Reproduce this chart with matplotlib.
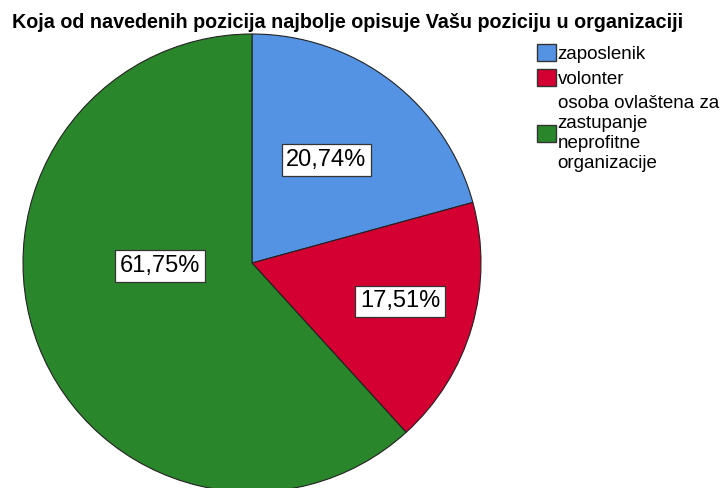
import matplotlib.pyplot as plt
from matplotlib.patches import Patch

plt.rcParams['font.family'] = ['Liberation Sans', 'DejaVu Sans']

categories = ["zaposlenik", "volonter",
              "osoba ovlaštena za\nzastupanje\nneprofitne\norganizacije"]
shares = [20.74, 17.51, 61.75]
pct_labels = ["20,74%", "17,51%", "61,75%"]
colors = ["#5493E3", "#D50032", "#2A862A"]
title = "Koja od navedenih pozicija najbolje opisuje Vašu poziciju u organizaciji"

W, H = 726, 488
fig = plt.figure(figsize=(W / 100, H / 100), dpi=100)

# pie centre and radius in pixels (from top-left)
cx, cy, r = 252, 263, 229
ax = fig.add_axes([(cx - r) / W, (H - cy - r) / H, 2 * r / W, 2 * r / H])
wedges, _ = ax.pie(shares, colors=colors, startangle=90, counterclock=False,
                   wedgeprops=dict(edgecolor="#222222", linewidth=0.8))
ax.set_xlim(-1, 1)
ax.set_ylim(-1, 1)
ax.set_aspect("equal")
ax.axis("off")

# label positions in pie units, as placed in the original
label_pos = [(0.325, 0.45), (0.646, -0.168), (-0.40, -0.013)]
for (lx, ly), txt in zip(label_pos, pct_labels):
    ax.text(lx, ly, txt, ha="center", va="center", fontsize=17,
            bbox=dict(boxstyle="square,pad=0.2", facecolor="white",
                      edgecolor="#333333", linewidth=0.9))

fig.text(12 / W, 1 - 22 / H, title, fontsize=14.2, fontweight="bold",
         ha="left", va="center")

handles = [Patch(facecolor=c, edgecolor="#333333", linewidth=1) for c in colors]
leg = fig.legend(handles, categories, loc="upper left",
                 bbox_to_anchor=(537 / W, 1 - 44 / H), frameon=False,
                 fontsize=13.5, handlelength=1.0, handleheight=1.0,
                 handletextpad=0.1, labelspacing=0.35, borderpad=0,
                 borderaxespad=0)
for t in leg.get_texts():
    t.set_linespacing(1.25)

fig.savefig("out.png", dpi=100)
